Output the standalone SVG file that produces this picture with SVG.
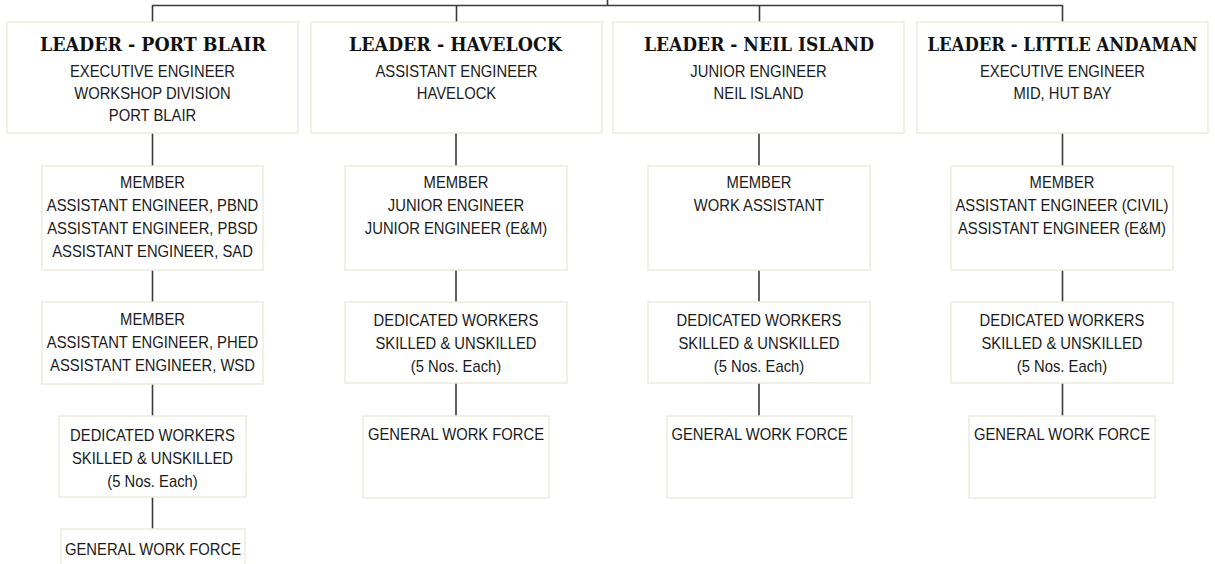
<svg xmlns="http://www.w3.org/2000/svg" width="1215" height="564" viewBox="0 0 1215 564">
<style>
.box{fill:#ffffff;stroke:#ecebdf;stroke-width:1.5}
.ln{stroke:#3a3a3a;stroke-width:1.6;fill:none}
.t{font-family:"Liberation Sans",Arial,sans-serif;font-size:17px;fill:#1a1a1a;text-anchor:middle}
.h{font-family:"DejaVu Serif","Liberation Serif",serif;font-size:18px;font-weight:bold;fill:#111;text-anchor:middle}
</style>
<rect width="1215" height="564" fill="#ffffff"/>
<g id="connectors">
<path class="ln" d="M607.5,0 V5.5 M152.5,5.5 H1062.5 M152.5,5 V22 M456.5,5.5 V22 M759.5,5.5 V22 M1062.5,5 V22"/>
<path class="ln" d="M152.5,133 V166 M152.5,270 V302 M152.5,384 V416 M152.5,497 V529"/>
<path class="ln" d="M456,133 V166 M456,270 V302 M456,383 V416"/>
<path class="ln" d="M759,133 V166 M759,270 V302 M759,383 V416"/>
<path class="ln" d="M1062.5,133 V166 M1062.5,270 V302 M1062.5,383 V416"/>
</g>
<g id="leader-portblair">
<rect class="box" x="7" y="22" width="291" height="111"/>
<text class="h" x="153" y="51" textLength="226" lengthAdjust="spacingAndGlyphs">LEADER - PORT BLAIR</text>
<g transform="translate(152.5,0) scale(0.87,1)">
<text class="t" x="0" y="77">EXECUTIVE ENGINEER</text>
<text class="t" x="0" y="99">WORKSHOP DIVISION</text>
<text class="t" x="0" y="121">PORT BLAIR</text>
</g>
</g>
<g id="leader-havelock">
<rect class="box" x="311" y="22" width="291" height="111"/>
<text class="h" x="455.5" y="51" textLength="213" lengthAdjust="spacingAndGlyphs">LEADER - HAVELOCK</text>
<g transform="translate(456.5,0) scale(0.87,1)">
<text class="t" x="0" y="77">ASSISTANT ENGINEER</text>
<text class="t" x="0" y="99">HAVELOCK</text>
</g>
</g>
<g id="leader-neil">
<rect class="box" x="613" y="22" width="291" height="111"/>
<text class="h" x="759" y="51" textLength="230" lengthAdjust="spacingAndGlyphs">LEADER - NEIL ISLAND</text>
<g transform="translate(758.5,0) scale(0.87,1)">
<text class="t" x="0" y="77">JUNIOR ENGINEER</text>
<text class="t" x="0" y="99">NEIL ISLAND</text>
</g>
</g>
<g id="leader-littleandaman">
<rect class="box" x="917" y="22" width="291" height="111"/>
<text class="h" transform="translate(1062.5,51) scale(0.88,1)" x="0" y="0" textLength="307" lengthAdjust="spacingAndGlyphs">LEADER - LITTLE ANDAMAN</text>
<g transform="translate(1062.5,0) scale(0.87,1)">
<text class="t" x="0" y="77">EXECUTIVE ENGINEER</text>
<text class="t" x="0" y="99">MID, HUT BAY</text>
</g>
</g>
<g id="pb-member1">
<rect class="box" x="42" y="166" width="221" height="104"/>
<g transform="translate(152.5,0) scale(0.87,1)">
<text class="t" x="0" y="188">MEMBER</text>
<text class="t" x="0" y="211">ASSISTANT ENGINEER, PBND</text>
<text class="t" x="0" y="234">ASSISTANT ENGINEER, PBSD</text>
<text class="t" x="0" y="257">ASSISTANT ENGINEER, SAD</text>
</g>
</g>
<g id="pb-member2">
<rect class="box" x="42" y="302" width="221" height="82"/>
<g transform="translate(152.5,0) scale(0.87,1)">
<text class="t" x="0" y="325">MEMBER</text>
<text class="t" x="0" y="348">ASSISTANT ENGINEER, PHED</text>
<text class="t" x="0" y="371">ASSISTANT ENGINEER, WSD</text>
</g>
</g>
<g id="pb-workers">
<rect class="box" x="59" y="416" width="187" height="81"/>
<g transform="translate(152.5,0) scale(0.87,1)">
<text class="t" x="0" y="441">DEDICATED WORKERS</text>
<text class="t" x="0" y="464">SKILLED &amp; UNSKILLED</text>
<text class="t" x="0" y="487">(5 Nos. Each)</text>
</g>
</g>
<g id="pb-general">
<rect class="box" x="61" y="529" width="184" height="60"/>
<g transform="translate(153,0) scale(0.87,1)">
<text class="t" x="0" y="555">GENERAL WORK FORCE</text>
</g>
</g>
<g id="hv-member">
<rect class="box" x="345" y="166" width="222" height="104"/>
<g transform="translate(456,0) scale(0.87,1)">
<text class="t" x="0" y="188">MEMBER</text>
<text class="t" x="0" y="211">JUNIOR ENGINEER</text>
<text class="t" x="0" y="234">JUNIOR ENGINEER (E&amp;M)</text>
</g>
</g>
<g id="hv-workers">
<rect class="box" x="345" y="302" width="222" height="81"/>
<g transform="translate(456,0) scale(0.87,1)">
<text class="t" x="0" y="326">DEDICATED WORKERS</text>
<text class="t" x="0" y="349">SKILLED &amp; UNSKILLED</text>
<text class="t" x="0" y="372">(5 Nos. Each)</text>
</g>
</g>
<g id="hv-general">
<rect class="box" x="363" y="416" width="186" height="82"/>
<g transform="translate(456,0) scale(0.87,1)">
<text class="t" x="0" y="440">GENERAL WORK FORCE</text>
</g>
</g>
<g id="ni-member">
<rect class="box" x="648" y="166" width="222" height="104"/>
<g transform="translate(759,0) scale(0.87,1)">
<text class="t" x="0" y="188">MEMBER</text>
<text class="t" x="0" y="211">WORK ASSISTANT</text>
</g>
</g>
<g id="ni-workers">
<rect class="box" x="648" y="302" width="222" height="81"/>
<g transform="translate(759,0) scale(0.87,1)">
<text class="t" x="0" y="326">DEDICATED WORKERS</text>
<text class="t" x="0" y="349">SKILLED &amp; UNSKILLED</text>
<text class="t" x="0" y="372">(5 Nos. Each)</text>
</g>
</g>
<g id="ni-general">
<rect class="box" x="667" y="416" width="185" height="82"/>
<g transform="translate(759.5,0) scale(0.87,1)">
<text class="t" x="0" y="440">GENERAL WORK FORCE</text>
</g>
</g>
<g id="la-member">
<rect class="box" x="951" y="166" width="222" height="104"/>
<g transform="translate(1062,0) scale(0.87,1)">
<text class="t" x="0" y="188">MEMBER</text>
<text class="t" x="0" y="211">ASSISTANT ENGINEER (CIVIL)</text>
<text class="t" x="0" y="234">ASSISTANT ENGINEER (E&amp;M)</text>
</g>
</g>
<g id="la-workers">
<rect class="box" x="951" y="302" width="222" height="81"/>
<g transform="translate(1062,0) scale(0.87,1)">
<text class="t" x="0" y="326">DEDICATED WORKERS</text>
<text class="t" x="0" y="349">SKILLED &amp; UNSKILLED</text>
<text class="t" x="0" y="372">(5 Nos. Each)</text>
</g>
</g>
<g id="la-general">
<rect class="box" x="969" y="416" width="186" height="82"/>
<g transform="translate(1062,0) scale(0.87,1)">
<text class="t" x="0" y="440">GENERAL WORK FORCE</text>
</g>
</g>
</svg>
